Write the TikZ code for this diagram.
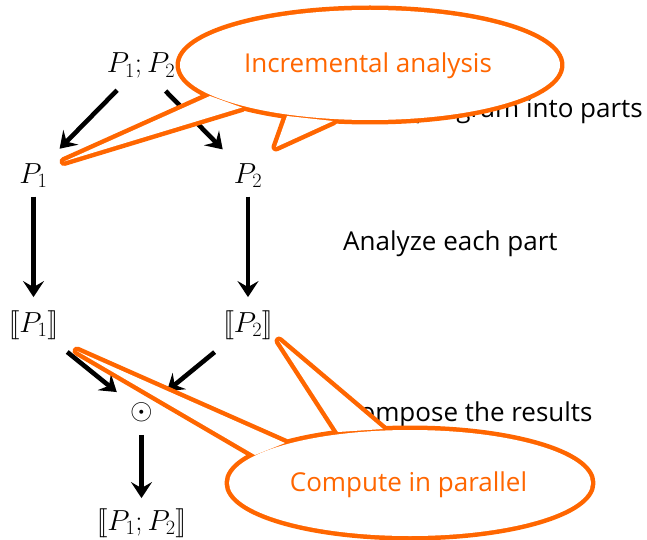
\RequirePackage{fix-cm}
\documentclass[tikz,border=0pt]{standalone}
\usepackage{fontspec}
\setmainfont{Open Sans}
\usetikzlibrary{arrows.meta}
% semantic (double) brackets
\newcommand{\lsem}{\mathopen{[\mkern-2.5mu[}}
\newcommand{\rsem}{\mathclose{]\mkern-2.5mu]}}
\definecolor{callorange}{RGB}{255,102,0}
\tikzset{
  term/.style={inner sep=0pt, font=\fontsize{29}{34}\selectfont},
  note/.style={inner sep=0pt, anchor=base west, font=\fontsize{26}{30}\selectfont},
  calltext/.style={inner sep=0pt, anchor=base, text=callorange, font=\fontsize{26}{30}\selectfont},
  arr/.style={line width=4.6pt, -{Stealth[length=16pt,width=21pt,inset=6pt]}},
  callrim/.style={draw=callorange, line width=9pt, line join=round},
}
\begin{document}
\begin{tikzpicture}[x=1pt, y=-1pt]
\useasboundingbox (0,0) rectangle (647,540);

% program and its parts
\node[term, anchor=base] (top) at (141,73) {$P_1;P_2$};
\node[term, anchor=base] (p1) at (33.5,183) {$P_1$};
\node[term, anchor=base] (p2) at (248,183) {$P_2$};
\node[term, anchor=base] (s1) at (33.5,332) {$\lsem P_1\rsem$};
\node[term, anchor=base] (s2) at (248,332) {$\lsem P_2\rsem$};
\node[term] (comp) at (141.5,412) {$\odot$};
\node[term, anchor=base] (res) at (141.5,530) {$\lsem P_1;P_2\rsem$};

% steps
\draw[arr, shorten <=16pt, shorten >=20pt] (top) -- (p1);
\draw[arr, shorten <=17pt, shorten >=19pt] (top) -- (p2);
\draw[arr, shorten <=9pt, shorten >=13pt] (p1) -- (s1);
\draw[arr, shorten <=9pt, shorten >=13pt] (p2) -- (s2);
\draw[arr, shorten <=20pt, shorten >=17pt] (s1) -- (comp);
\draw[arr, shorten <=20pt, shorten >=18pt] (s2) -- (comp);
\draw[arr, shorten <=13pt, shorten >=10pt] (comp) -- (res);

% explanations
\node[note, anchor=base east] (split) at (643,118) {Divide program into parts};
\node[note] (analyze) at (343,250) {Analyze each part};
\node[note] (compose) at (343,421) {Compose the results};

% callout: incremental analysis
\coordinate (incc) at (370,65);
\coordinate (incA1) at (210,96);   \coordinate (incB1) at (242,107.5);
\coordinate (incT1) at (64,161.5);
\coordinate (incA2) at (287,116);  \coordinate (incB2) at (333,121);
\coordinate (incT2) at (276,147);
\path[callrim] (incc) ellipse [x radius=190, y radius=55];
\path[callrim] (incA1) -- (incT1) -- (incB1) -- cycle;
\path[callrim] (incA2) -- (incT2) -- (incB2) -- cycle;
\fill[white] (incc) ellipse [x radius=190, y radius=55];
\fill[white] (incA1) -- (incT1) -- (incB1) -- cycle;
\fill[white] (incA2) -- (incT2) -- (incB2) -- cycle;
\node[calltext] (inc) at (368,73) {Incremental analysis};

% callout: parallel computation
\coordinate (parc) at (410,483);
\coordinate (parA1) at (255,455);  \coordinate (parB1) at (285,443);
\coordinate (parT1) at (77,351);
\coordinate (parA2) at (338,432);  \coordinate (parB2) at (383,429);
\coordinate (parT2) at (279,341);
\path[callrim] (parc) ellipse [x radius=181, y radius=53];
\path[callrim] (parA1) -- (parT1) -- (parB1) -- cycle;
\path[callrim] (parA2) -- (parT2) -- (parB2) -- cycle;
\fill[white] (parc) ellipse [x radius=181, y radius=53];
\fill[white] (parA1) -- (parT1) -- (parB1) -- cycle;
\fill[white] (parA2) -- (parT2) -- (parB2) -- cycle;
\node[calltext] (par) at (408.5,491) {Compute in parallel};
\end{tikzpicture}
\end{document}
